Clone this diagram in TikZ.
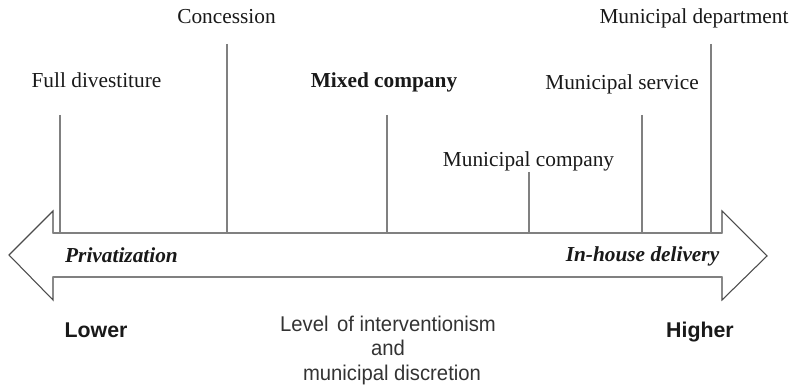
\documentclass[tikz,border=0pt]{standalone}
\usepackage{fontspec}
\setmainfont{Liberation Serif}
\newfontfamily\arialfont{Liberation Sans}
\newfontfamily\arialcond[FakeStretch=0.95]{Liberation Sans}
\begin{document}
\begin{tikzpicture}[x=0.75pt,y=-0.75pt,
  lbl/.style={font=\fontsize{16}{19}\selectfont, anchor=base, inner sep=0pt, text=black!90},
  blbl/.style={font=\arialcond\fontsize{16}{19}\selectfont, anchor=base, inner sep=0pt, text=black!80},
  tick/.style={draw=black!50, line width=1.5pt},
  headline/.style={draw=black!70, line width=0.8pt, line join=miter},
  bodyline/.style={draw=black!50, line width=1.5pt}]
\useasboundingbox (0,0) rectangle (794,391);
% arrow outline
\draw[headline, fill=white] (9,255) -- (53,211) -- (53,233) -- (722,233) -- (722,211) -- (767,256) -- (722,300) -- (722,277) -- (53,277) -- (53,300) -- cycle;
\coordinate (bl) at (53,233);
\coordinate (br) at (722,233);
\coordinate (bbl) at (53,277);
\coordinate (bbr) at (722,277);
\draw[bodyline] (bl) -- (br);
\draw[bodyline] (bbl) -- (bbr);
% labels
\node[lbl] (full) at (96.5,88) {Full divestiture};
\node[lbl] (conc) at (226.5,24) {Concession};
\node[lbl, font=\bfseries\fontsize{16}{19}\selectfont] (mixed) at (384,88) {Mixed company};
\node[lbl] (mcomp) at (528.5,167) {Municipal company};
\node[lbl] (mserv) at (622,89.5) {Municipal service};
\node[lbl] (mdep) at (694,24) {Municipal department};
% ticks
\coordinate (t1a) at (60,115);  \coordinate (t1b) at (60,233);
\coordinate (t2a) at (227,44);  \coordinate (t2b) at (227,233);
\coordinate (t3a) at (387,115); \coordinate (t3b) at (387,233);
\coordinate (t4a) at (529,172); \coordinate (t4b) at (529,233);
\coordinate (t5a) at (642,115); \coordinate (t5b) at (642,233);
\coordinate (t6a) at (711,44);  \coordinate (t6b) at (711,233);
\draw[tick] (t1a) -- (t1b);
\draw[tick] (t2a) -- (t2b);
\draw[tick] (t3a) -- (t3b);
\draw[tick] (t4a) -- (t4b);
\draw[tick] (t5a) -- (t5b);
\draw[tick] (t6a) -- (t6b);
% inside arrow
\node[lbl, font=\bfseries\itshape\fontsize{16}{19}\selectfont] (priv) at (121.5,262.5) {Privatization};
\node[lbl, font=\bfseries\itshape\fontsize{16}{19}\selectfont] (inh) at (642.5,262) {In-house delivery};
% bottom
\node[lbl, font=\arialfont\bfseries\fontsize{16}{19}\selectfont] (low) at (96,338) {Lower};
\node[lbl, font=\arialfont\bfseries\fontsize{16}{19}\selectfont] (high) at (700,338) {Higher};
\node[blbl] (lev1) at (388,332) {Level\hspace{0.4em}of interventionism};
\node[blbl] (lev2) at (388,355.5) {and};
\node[blbl] (lev3) at (392,381) {municipal discretion};
\end{tikzpicture}
\end{document}
